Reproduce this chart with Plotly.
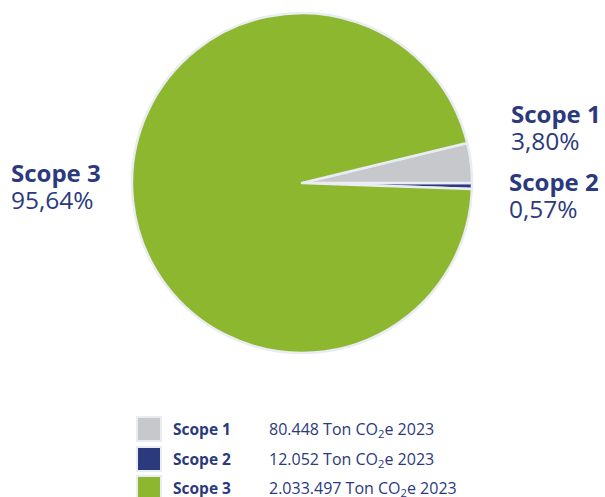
import plotly.graph_objects as go

labels = ["Scope 2", "Scope 1", "Scope 3"]
values = [12052, 80448, 2033497]
pct_text = {"Scope 1": "3,80%", "Scope 2": "0,57%", "Scope 3": "95,64%"}
legend_names = ["Scope 1", "Scope 2", "Scope 3"]
legend_values = ["80.448", "12.052", "2.033.497"]
colors = {"Scope 1": "#c7c8cc", "Scope 2": "#2b3a7c", "Scope 3": "#8db72f"}

W, H = 605, 497
navy = "#2b3a7c"
font_fam = "Open Sans, Noto Sans, sans-serif"

fig = go.Figure(go.Pie(
    labels=labels, values=values, sort=False, direction="counterclockwise",
    rotation=90, textinfo="none", hoverinfo="label+percent",
    marker=dict(colors=[colors[l] for l in labels], line=dict(color="#e9ecf2", width=2.5)),
    domain=dict(x=[132 / W, 472 / W], y=[1 - 353 / H, 1 - 13 / H]),
    showlegend=False,
))

def ax(px):
    return px / W

def ay(py):
    return 1 - py / H

ann = []
# slice labels
for name, x, y in [("Scope 1", 509, 114), ("Scope 2", 507, 182), ("Scope 3", 9, 173)]:
    ann.append(dict(x=ax(x), y=ay(y), xref="paper", yref="paper", xanchor="left", yanchor="middle",
                    text="<b>%s</b>" % name, showarrow=False,
                    font=dict(family=font_fam, size=24, color=navy)))
    ann.append(dict(x=ax(x), y=ay(y + 26), xref="paper", yref="paper", xanchor="left", yanchor="middle",
                    text=pct_text[name], showarrow=False,
                    font=dict(family=font_fam, size=24.5, color=navy)))

shapes = []
rows_y = [429, 459, 488]
for name, val, ry in zip(legend_names, legend_values, rows_y):
    shapes.append(dict(type="rect", xref="paper", yref="paper",
                       x0=ax(137), x1=ax(161), y0=ay(ry - 12), y1=ay(ry + 12),
                       fillcolor=colors[name], line=dict(color="#e9ecf2", width=2)))
    ann.append(dict(x=ax(171), y=ay(ry), xref="paper", yref="paper", xanchor="left", yanchor="middle",
                    text="<b>%s</b>" % name, showarrow=False,
                    font=dict(family=font_fam, size=15.5, color=navy)))
    ann.append(dict(x=ax(267), y=ay(ry), xref="paper", yref="paper", xanchor="left", yanchor="middle",
                    text="%s Ton CO<sub>2</sub>e 2023" % val, showarrow=False,
                    font=dict(family=font_fam, size=16, color=navy)))

fig.update_layout(
    width=W, height=H, margin=dict(l=0, r=0, t=0, b=0),
    paper_bgcolor="white", plot_bgcolor="white",
    annotations=ann, shapes=shapes,
)

fig.write_html("out.html", config={"displayModeBar": False},
               post_script="document.body.style.margin='0';document.body.style.overflow='hidden';")
